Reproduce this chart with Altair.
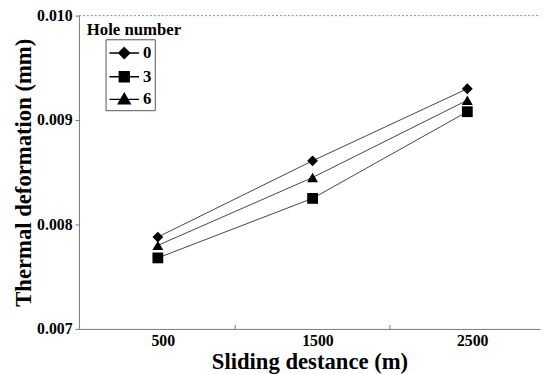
import altair as alt
import pandas as pd

distances = [500, 1500, 2500]
hole_numbers = ["0", "3", "6"]
deform_0 = [0.00788, 0.00861, 0.00930]
deform_3 = [0.00768, 0.00825, 0.00908]
deform_6 = [0.00780, 0.00845, 0.00919]
x_ticks = [500, 1500, 2500]
x_minor_ticks = [1000, 2000]
y_ticks = [0.007, 0.008, 0.009, 0.010]
legend_title = "Hole number"
x_title = "Sliding destance (m)"
y_title = "Thermal deformation (mm)"

marker_shapes = ["diamond", "square", "triangle-up"]
legend_shapes = [
    "M-1.5,0L1.5,0M0,-0.55L0.55,0L0,0.55L-0.55,0Z",
    "M-1.5,0L1.5,0M-0.5,-0.5L0.5,-0.5L0.5,0.5L-0.5,0.5Z",
    "M-1.5,0L1.5,0M0,-0.6L0.6,0.45L-0.6,0.45Z",
]

rows = []
for h, vals in zip(hole_numbers, [deform_0, deform_3, deform_6]):
    for d, v in zip(distances, vals):
        rows.append({"distance": d, "deform": v, "hole": h, "hole_l": h})
df = pd.DataFrame(rows)

FONT = "Liberation Serif"

x_scale = alt.Scale(domain=[-10, 2970], nice=False, zero=False)
x_enc = alt.X(
    "distance:Q",
    scale=x_scale,
    axis=alt.Axis(values=x_ticks, title=x_title, grid=False, ticks=False,
                  labelOffset=5, labelPadding=4, titlePadding=2, format="d"),
)
y_enc = alt.Y(
    "deform:Q",
    scale=alt.Scale(domain=[0.007, 0.010], nice=False, zero=False),
    axis=alt.Axis(values=y_ticks, title=y_title, grid=False, format=".3f",
                  tickSize=4, labelPadding=3, titlePadding=1),
)

base = alt.Chart(df)

lines = base.mark_line(color="#444444", strokeWidth=1).encode(
    x=x_enc, y=y_enc, detail="hole:N"
)

points = base.mark_point(filled=True, color="black", opacity=1, size=120).encode(
    x=x_enc, y=y_enc,
    shape=alt.Shape("hole:N", scale=alt.Scale(domain=hole_numbers, range=marker_shapes), legend=None),
)

legend_layer = base.mark_point(filled=False, fill="black", stroke="black",
                               strokeWidth=1.5, opacity=0).encode(
    x=x_enc, y=y_enc,
    shape=alt.Shape(
        "hole_l:N",
        scale=alt.Scale(domain=hole_numbers, range=legend_shapes),
        legend=alt.Legend(
            title=None, orient="none", legendX=27, legendY=24,
            symbolSize=400, symbolOffset=5,
            labelFont=FONT, labelFontSize=17, labelFontWeight="bold", labelColor="black",
            labelOffset=8, strokeColor="#555555", padding=3, rowPadding=4,
        ),
    ),
)

minor = alt.Chart(pd.DataFrame({"m": x_minor_ticks})).mark_rule(
    color="#777777", strokeWidth=1
).encode(x=alt.X("m:Q", scale=x_scale), y=alt.value(318), y2=alt.value(314))

title_text = alt.Chart(pd.DataFrame({"t": [legend_title]})).mark_text(
    font=FONT, fontSize=17, fontWeight="bold", align="left", baseline="alphabetic", color="black"
).encode(text="t:N", x=alt.value(8), y=alt.value(20))

top_line = alt.Chart(pd.DataFrame({"a": [0]})).mark_rule(
    color="#888888", strokeDash=[2, 2], strokeWidth=1
).encode(x=alt.value(0), x2=alt.value(468), y=alt.value(0))

chart = (
    alt.layer(lines, points, legend_layer, minor, title_text, top_line)
    .resolve_scale(shape="independent")
    .properties(width=468, height=318, autosize=alt.AutoSizeParams(type="none"),
                padding={"left": 72, "top": 5, "right": 2, "bottom": 43})
    .configure(font=FONT)
    .configure_view(stroke=None)
    .configure_axis(
        labelFont=FONT, labelFontSize=16, labelFontWeight="bold", labelColor="black",
        titleFont=FONT, titleFontSize=23, titleFontWeight="bold", titleColor="black",
        domainColor="#777777", tickColor="#777777", domainWidth=1,
    )
)

chart.save("out.html", embed_options={"renderer": "svg", "actions": False})
